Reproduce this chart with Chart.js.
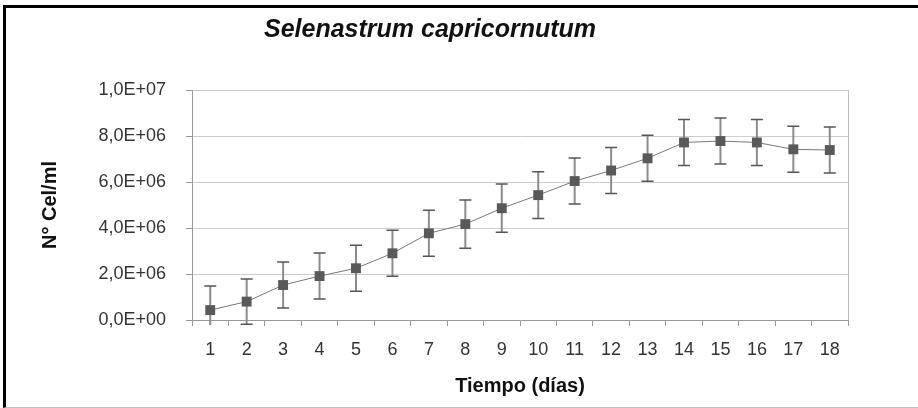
<!DOCTYPE html>
<html>
<head>
<meta charset="utf-8">
<title>Selenastrum capricornutum</title>
<script src="https://cdn.jsdelivr.net/npm/chart.js@4.4.0/dist/chart.umd.min.js"></script>
<style>
  html, body { margin: 0; padding: 0; background: #fff; }
  #wrap { position: relative; width: 918px; height: 408px; overflow: hidden; }
  #frame {
    position: absolute; left: 3px; top: 5px; width: 930px; height: 403px;
    box-sizing: border-box; pointer-events: none;
    border-left: 3px solid #000; border-top: 3px solid #000; border-bottom: 1px solid #bdbdbd;
  }
</style>
</head>
<body>
<div id="wrap">
  <canvas id="growthChart" width="918" height="408"></canvas>
  <div id="frame"></div>
</div>
<script>
// Data
const days = ["1", "2", "3", "4", "5", "6", "7", "8", "9", "10", "11", "12", "13", "14", "15", "16", "17", "18"];
const cellCounts = [0.43e6, 0.8e6, 1.52e6, 1.91e6, 2.25e6, 2.9e6, 3.77e6, 4.17e6, 4.86e6, 5.43e6, 6.04e6, 6.5e6, 7.03e6, 7.72e6, 7.78e6, 7.72e6, 7.42e6, 7.39e6];
const cellErrors = [1.05e6, 0.98e6, 1.0e6, 1.0e6, 1.0e6, 1.0e6, 1.0e6, 1.05e6, 1.05e6, 1.02e6, 1.0e6, 1.0e6, 1.0e6, 1.0e6, 1.0e6, 1.0e6, 1.0e6, 1.0e6];
const yTickLabels = ["0,0E+00", "2,0E+06", "4,0E+06", "6,0E+06", "8,0E+06", "1,0E+07"];

const FONT = "'Liberation Sans', Arial, sans-serif";

// Error bars drawn behind the markers (clipped just below the axis, like the original)
const errorBarPlugin = {
  id: "errorBars",
  beforeDatasetsDraw(chart) {
    const { ctx, chartArea, scales: { x, y } } = chart;
    ctx.save();
    ctx.beginPath();
    ctx.rect(chartArea.left, 0, chartArea.right - chartArea.left, chartArea.bottom + 5);
    ctx.clip();
    cellCounts.forEach((v, i) => {
      const px = x.getPixelForValue(i);
      const top = y.getPixelForValue(v + cellErrors[i]);
      const bottom = y.getPixelForValue(v - cellErrors[i]);
      ctx.strokeStyle = "#8c8c8c";
      ctx.lineWidth = 2;
      ctx.beginPath();
      ctx.moveTo(px, top);
      ctx.lineTo(px, bottom);
      ctx.stroke();
      ctx.strokeStyle = "#555";
      ctx.lineWidth = 1.5;
      ctx.beginPath();
      ctx.moveTo(px - 6, top);
      ctx.lineTo(px + 6, top);
      ctx.moveTo(px - 6, bottom);
      ctx.lineTo(px + 6, bottom);
      ctx.stroke();
    });
    ctx.restore();
  },
  afterDraw(chart) {
    // right border of the plot area
    const { ctx, chartArea } = chart;
    ctx.save();
    ctx.strokeStyle = "#bdbdbd";
    ctx.lineWidth = 1;
    ctx.beginPath();
    ctx.moveTo(Math.round(chartArea.right) + 0.5, chartArea.top);
    ctx.lineTo(Math.round(chartArea.right) + 0.5, chartArea.bottom);
    ctx.stroke();
    ctx.restore();
  },
};

new Chart(document.getElementById("growthChart"), {
  type: "line",
  data: {
    labels: days,
    datasets: [
      {
        label: "Selenastrum capricornutum",
        data: cellCounts,
        borderColor: "#777",
        borderWidth: 1,
        pointStyle: "rect",
        pointRadius: 7,
        pointBackgroundColor: "#595959",
        pointBorderColor: "#595959",
        pointBorderWidth: 0,
        tension: 0,
        clip: false,
      },
    ],
  },
  options: {
    responsive: false,
    devicePixelRatio: 1,
    animation: false,
    layout: {
      padding: { left: 12, right: 70, top: 8, bottom: 0 },
    },
    plugins: {
      legend: { display: false },
      tooltip: { enabled: false },
      title: {
        display: true,
        text: "Selenastrum capricornutum",
        color: "#111",
        font: { family: FONT, size: 25, weight: "bold", style: "italic" },
        padding: { top: 7, bottom: 45 },
      },
    },
    scales: {
      x: {
        type: "category",
        offset: true,
        afterFit: (scale) => {
          scale.height = 88;
        },
        grid: {
          display: true,
          drawOnChartArea: false,
          offset: true,
          tickLength: 6,
          color: "#999",
        },
        border: { display: true, color: "#999" },
        ticks: {
          color: "#333",
          padding: 13,
          maxRotation: 0,
          autoSkip: false,
          font: { family: FONT, size: 18 },
        },
        title: {
          display: true,
          text: "Tiempo (días)",
          color: "#111",
          font: { family: FONT, size: 20, weight: "bold" },
          padding: { top: 0, bottom: 10 },
        },
      },
      y: {
        min: 0,
        max: 1e7,
        afterFit: (scale) => {
          scale.width = 180;
        },
        grid: {
          color: "#cccccc",
          tickColor: "#999",
          tickLength: 6,
        },
        border: { display: true, color: "#999" },
        ticks: {
          stepSize: 2e6,
          color: "#333",
          padding: 20,
          font: { family: FONT, size: 18 },
          callback: function (value, index) {
            return yTickLabels[index];
          },
        },
        title: {
          display: true,
          text: "N° Cel/ml",
          color: "#111",
          font: { family: FONT, size: 20, weight: "bold" },
          padding: { top: 26, bottom: 0 },
        },
      },
    },
  },
  plugins: [errorBarPlugin],
});
</script>
</body>
</html>
